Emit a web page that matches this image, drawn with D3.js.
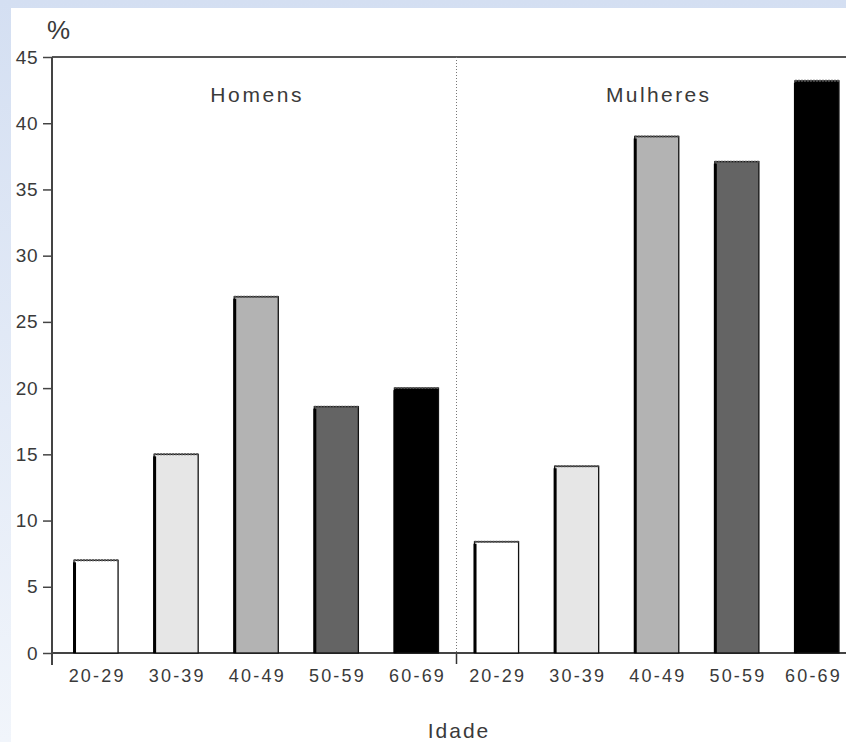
<!DOCTYPE html>
<html><head><meta charset="utf-8">
<script src="https://cdn.jsdelivr.net/npm/d3@7"></script>
<style>
html,body{margin:0;padding:0;background:#fff;}
svg{display:block;}
text{font-family:"Liberation Sans",Arial,sans-serif;fill:#3a3a3a;}
</style></head>
<body>
<svg id="chart" width="846" height="742"></svg>
<script>
const groups = ["Homens", "Mulheres"];
const ageGroups = ["20-29", "30-39", "40-49", "50-59", "60-69"];
const homens = [7.0, 15.0, 26.9, 18.6, 20.0];
const mulheres = [8.4, 14.1, 39.0, 37.1, 43.2];
const yTicks = [0, 5, 10, 15, 20, 25, 30, 35, 40, 45];
const fills = ["#ffffff", "#e6e6e6", "#b3b3b3", "#646464", "#000000"];

const rows = [];
[homens, mulheres].forEach((vals, gi) => {
  vals.forEach((v, i) => rows.push({key: groups[gi] + "|" + ageGroups[i], group: groups[gi], age: ageGroups[i], idx: i, value: v}));
});

const svg = d3.select("#chart");
const W = 846, H = 742;

// background
const defs = svg.append("defs");
const lg = defs.append("linearGradient").attr("id","bg").attr("x1",0).attr("y1",0).attr("x2",0).attr("y2",1);
lg.append("stop").attr("offset","0%").attr("stop-color","#d4dff2");
lg.append("stop").attr("offset","100%").attr("stop-color","#f1f5fb");
svg.append("rect").attr("width",W).attr("height",H).attr("fill","url(#bg)");
svg.append("rect").attr("x",11).attr("y",8).attr("width",W-11).attr("height",H-8).attr("fill","#fff");

const y = d3.scaleLinear().domain([0,45]).range([653,57]);
const x = d3.scaleBand().domain(rows.map(d=>d.key)).range([56,857]).paddingInner(0.45).paddingOuter(0.225);
const axisX = 52;

// top border line
svg.append("line").attr("x1",axisX).attr("x2",W).attr("y1",y(45)).attr("y2",y(45))
  .attr("stroke","#555").attr("stroke-width",2);

// divider
const divX = (x(rows[4].key) + x.bandwidth() + x(rows[5].key)) / 2;
svg.append("line").attr("x1",divX).attr("x2",divX).attr("y1",y(45)).attr("y2",y(0))
  .attr("stroke","#777").attr("stroke-width",1).attr("stroke-dasharray","1,2");
svg.append("line").attr("x1",divX).attr("x2",divX).attr("y1",y(0)).attr("y2",y(0)+11)
  .attr("stroke","#333").attr("stroke-width",1.5);

// y axis
const yAxis = d3.axisLeft(y).tickValues(yTicks).tickSize(9).tickPadding(5);
const gy = svg.append("g").attr("transform",`translate(${axisX},0)`).call(yAxis);
gy.select(".domain").attr("stroke","#444").attr("stroke-width",2).attr("d",`M0,${y(45)}V${y(0)+12}`);
gy.selectAll(".tick line").attr("stroke","#444").attr("stroke-width",1.5);
gy.selectAll(".tick text").attr("font-size",19).attr("letter-spacing","0.5px").style("fill","#3a3a3a")
  .attr("font-family","Liberation Sans, Arial, sans-serif");

// x axis
const xAxis = d3.axisBottom(x).tickSize(0).tickPadding(16).tickFormat(k => k.split("|")[1]);
const gx = svg.append("g").attr("transform",`translate(0,${y(0)})`).call(xAxis);
gx.select(".domain").attr("stroke","#444").attr("stroke-width",2).attr("d",`M${axisX},0H${W}`);
gx.selectAll(".tick text").attr("font-size",18).attr("letter-spacing","2.2px").attr("dx","1.1").style("fill","#3a3a3a")
  .attr("font-family","Liberation Sans, Arial, sans-serif");
// keep labels inside the picture
gx.selectAll(".tick").each(function() {
  const t = d3.select(this).select("text");
  const b = this.getBBox();
  const tr = this.transform.baseVal.consolidate().matrix.e;
  const right = tr + b.x + b.width;
  if (right > W - 4) t.attr("dx", 1.1 - (right - (W - 4)));
});

// bars
const bars = svg.append("g").selectAll("g").data(rows).join("g");
bars.append("rect")
  .attr("x", d => x(d.key)).attr("y", d => y(d.value))
  .attr("width", x.bandwidth()).attr("height", d => y(0) - y(d.value))
  .attr("fill", d => fills[d.idx]).attr("stroke","#111").attr("stroke-width",1.3);
bars.append("rect")
  .attr("x", d => x(d.key) - 1).attr("y", d => y(d.value) + 2)
  .attr("width", 3).attr("height", d => y(0) - y(d.value) - 2)
  .attr("fill","#000");
bars.append("line")
  .attr("x1", d => x(d.key)).attr("x2", d => x(d.key) + x.bandwidth())
  .attr("y1", d => y(d.value)).attr("y2", d => y(d.value))
  .attr("stroke","#555").attr("stroke-width",2).attr("stroke-dasharray","2,1");

// group labels
const groupCenter = g => {
  const ks = rows.filter(r=>r.group===g).map(r=>r.key);
  return (x(ks[0]) + x(ks[ks.length-1]) + x.bandwidth()) / 2;
};
svg.append("text").attr("x", groupCenter("Homens") + 1).attr("y", 102).attr("text-anchor","middle")
  .attr("font-size",21).attr("letter-spacing","2.6px").text("Homens");
svg.append("text").attr("x", groupCenter("Mulheres") + 2).attr("y", 102).attr("text-anchor","middle")
  .attr("font-size",21).attr("letter-spacing","2.4px").text("Mulheres");

// axis titles
svg.append("text").attr("x",47).attr("y",39).attr("font-size",26).text("%");
svg.append("text").attr("x",459).attr("y",738).attr("text-anchor","middle")
  .attr("font-size",21).attr("letter-spacing","2px").text("Idade");
</script>
</body></html>
